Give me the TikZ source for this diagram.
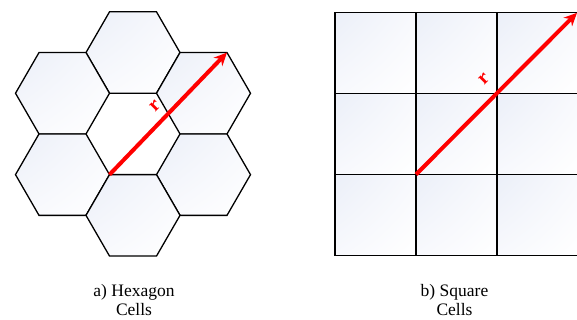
\documentclass[tikz,border=0pt]{standalone}
\usepackage{fontspec}
\setmainfont{Liberation Serif}
\usetikzlibrary{arrows.meta,shadings}
\definecolor{cellblue}{RGB}{235,239,248}
\definecolor{cellmid}{RGB}{248,249,253}
\definecolor{arrowred}{RGB}{255,0,0}
\tikzset{
  cell/.style={draw=black, line width=1.3pt, line join=miter,
    upper left=cellblue, upper right=cellmid, lower left=cellmid, lower right=white},
  radius arrow/.style={draw=arrowred, line width=4pt, -{Stealth[length=13pt,width=12pt]}},
  rlabel/.style={text=arrowred, font=\bfseries\fontsize{20}{20}\selectfont, rotate=45, inner sep=0pt},
  caption/.style={anchor=base, inner sep=0pt, font=\fontsize{17.5}{19}\selectfont}
}
\begin{document}
\begin{tikzpicture}[x=1pt,y=-1pt]
\useasboundingbox (0,0) rectangle (577,320);
% hexagon cells (flat-topped, side 47)
\foreach \cx/\cy in {133/52.55, 62.5/93.25, 203.5/93.25, 62.5/174.65, 203.5/174.65, 133/215.35}{
  \path[cell] (\cx+47,\cy) -- (\cx+23.5,\cy+40.7) -- (\cx-23.5,\cy+40.7) -- (\cx-47,\cy)
    -- (\cx-23.5,\cy-40.7) -- (\cx+23.5,\cy-40.7) -- cycle;
}
\coordinate (hexStart) at (109.5,174.65);
\coordinate (hexEnd) at (227,52.55);
\draw[radius arrow] (hexStart) -- (hexEnd);
\node[rlabel] (hexR) at (155,106) {r};
% square cells
\foreach \i in {0,1,2}{
  \foreach \j in {0,1,2}{
    \path[cell] (335+81*\i,12.5+81*\j) rectangle (416+81*\i,93.5+81*\j);
  }
}
\coordinate (sqStart) at (416,174.5);
\coordinate (sqEnd) at (577,12.8);
\draw[radius arrow] (sqStart) -- (sqEnd);
\node[rlabel] (sqR) at (484,79) {r};
% captions
\node[caption] (capA1) at (134,296.7) {a) Hexagon};
\node[caption] (capA2) at (134,315.7) {Cells};
\node[caption] (capB1) at (454.5,296.7) {b) Square};
\node[caption] (capB2) at (454.5,315.7) {Cells};
\end{tikzpicture}
\end{document}
